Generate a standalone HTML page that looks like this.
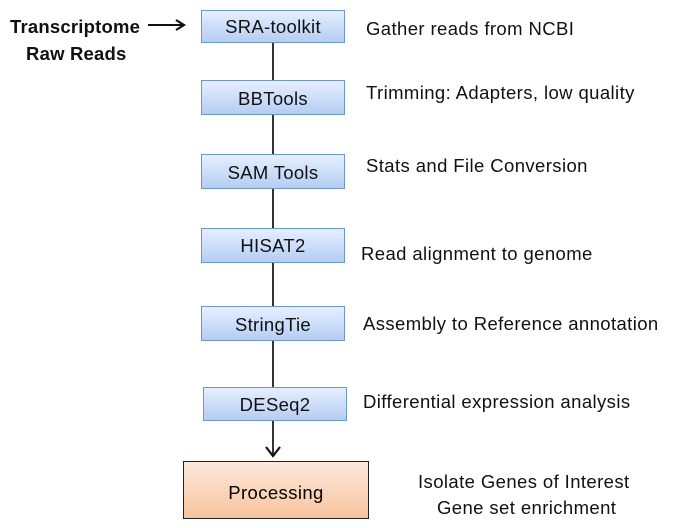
<!DOCTYPE html>
<html><head><style>
body{margin:0;width:692px;height:528px;background:#fff;position:relative;font-family:"Liberation Sans",sans-serif;overflow:hidden}
.b{position:absolute;left:201px;width:144px;border:1.5px solid #6d97c9;background:linear-gradient(#e6efff,#b4cdf3);font-size:18.5px;text-align:center;color:#111;box-sizing:border-box;letter-spacing:0.3px}
.t{position:absolute;font-size:18.5px;color:#111;white-space:nowrap;letter-spacing:0.4px}
</style></head><body>
<svg width="692" height="528" style="position:absolute;left:0;top:0">
<line x1="273" y1="40" x2="273" y2="455" stroke="#333" stroke-width="2"/>
<polyline points="266,447 273,456 280,447" fill="none" stroke="#111" stroke-width="2.2"/>
<line x1="148" y1="25" x2="183" y2="25" stroke="#111" stroke-width="2"/>
<polyline points="176,20 184,25 176,30" fill="none" stroke="#111" stroke-width="2.2"/>
</svg>
<div class="b" style="top:10px;height:33px;line-height:31px">SRA-toolkit</div>
<div class="b" style="top:80px;height:35px;line-height:35px">BBTools</div>
<div class="b" style="top:154px;height:35px;line-height:35px">SAM Tools</div>
<div class="b" style="top:228px;height:35px;line-height:33px">HISAT2</div>
<div class="b" style="top:306px;height:35px;line-height:35px">StringTie</div>
<div class="b" style="left:203px;top:387px;height:34px;line-height:34px">DESeq2</div>
<div style="position:absolute;left:183px;top:461px;width:186px;height:58px;box-sizing:border-box;border:1.5px solid #222;background:linear-gradient(#fde9dc,#f8c39d);font-size:18.5px;letter-spacing:0.4px;text-align:center;line-height:62px">Processing</div>
<div class="t" style="left:10px;top:13px;font-weight:bold;line-height:27px;letter-spacing:0.2px">Transcriptome<br>&nbsp;&nbsp;&nbsp;Raw Reads</div>
<div class="t" style="left:366px;top:18px">Gather reads from NCBI</div>
<div class="t" style="left:366px;top:82px">Trimming: Adapters, low quality</div>
<div class="t" style="left:366px;top:155px">Stats and File Conversion</div>
<div class="t" style="left:361px;top:243px">Read alignment to genome</div>
<div class="t" style="left:363px;top:313px">Assembly to Reference annotation</div>
<div class="t" style="left:363px;top:391px">Differential expression analysis</div>
<div class="t" style="left:418px;top:471px">Isolate Genes of Interest</div>
<div class="t" style="left:437px;top:497px">Gene set enrichment</div>
</body></html>
